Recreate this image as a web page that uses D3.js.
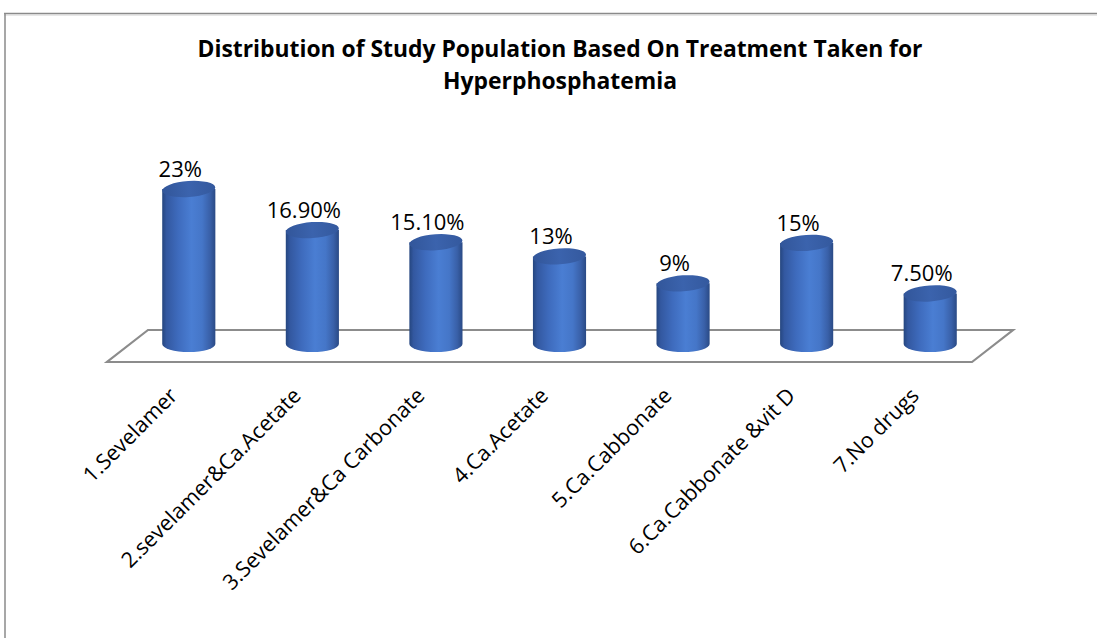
<!DOCTYPE html>
<html>
<head>
<meta charset="utf-8">
<script src="https://cdn.jsdelivr.net/npm/d3@7"></script>
<style>
  html, body { margin: 0; padding: 0; background: #ffffff; }
  svg { display: block; }
</style>
</head>
<body>
<svg id="chart" width="1097" height="638"></svg>
<script>
// Treatment groups and share of the study population (%)
const categories = [
  "1.Sevelamer",
  "2.sevelamer&Ca.Acetate",
  "3.Sevelamer&Ca Carbonate",
  "4.Ca.Acetate",
  "5.Ca.Cabbonate",
  "6.Ca.Cabbonate &vit D",
  "7.No drugs"
];
const values = [23, 16.9, 15.1, 13, 9, 15, 7.5];
const valueLabels = ["23%", "16.90%", "15.10%", "13%", "9%", "15%", "7.50%"];
const titleLines = [
  "Distribution of Study Population Based On Treatment Taken for",
  "Hyperphosphatemia"
];

(function () {
const svg = d3.select("#chart");
const W = 1097, H = 638;
const font = "'Open Sans', 'DejaVu Sans', sans-serif";

// chart area frame (top and left edges visible)
svg.append("line").attr("x1", 4).attr("y1", 13.5).attr("x2", W).attr("y2", 13.5)
  .attr("stroke", "#8a8a8a").attr("stroke-width", 1.5);
svg.append("line").attr("x1", 4).attr("y1", 15).attr("x2", W).attr("y2", 15)
  .attr("stroke", "#d0d0d0").attr("stroke-width", 1);
svg.append("line").attr("x1", 5).attr("y1", 13).attr("x2", 5).attr("y2", H)
  .attr("stroke", "#8a8a8a").attr("stroke-width", 1.5);

// title
const titleSizes = [725, 234];
svg.append("g").selectAll("text").data(titleLines).join("text")
  .attr("x", 560)
  .attr("y", (d, i) => 57 + i * 32)
  .attr("text-anchor", "middle")
  .attr("font-family", font)
  .attr("font-weight", "bold")
  .attr("font-size", 23)
  .attr("textLength", (d, i) => titleSizes[i])
  .attr("lengthAdjust", "spacingAndGlyphs")
  .attr("fill", "#000")
  .text(d => d);

// scales
const x = d3.scaleBand().domain(categories).range([127, 992]).padding(0);
const y = d3.scaleLinear().domain([0, 25]).range([344, 175.5]);
const barW = x.bandwidth() * 0.43;
const rx = barW / 2, ry = 8;
const cx = d => x(d) + x.bandwidth() / 2;

// floor plane
const depth = 41, floorBack = 330, floorFront = 362;
const fl = x.range()[0] - 20, fr = x.range()[1] - 20;
svg.append("path")
  .attr("d", `M${fl + depth},${floorBack} L${fr + depth},${floorBack} L${fr},${floorFront} L${fl},${floorFront} Z`)
  .attr("fill", "#ffffff")
  .attr("stroke", "#8c8c8c")
  .attr("stroke-width", 2.2)
  .attr("stroke-linejoin", "miter");

// gradients for the cylinders
const defs = svg.append("defs");
const bodyGrad = defs.append("linearGradient").attr("id", "cylBody")
  .attr("x1", "0%").attr("x2", "100%").attr("y1", "0%").attr("y2", "0%");
[["0%", "#25467f"], ["8%", "#3358a0"], ["30%", "#3e6bbd"], ["55%", "#4a7ed3"],
 ["75%", "#4576c8"], ["90%", "#3960a8"], ["100%", "#2a4a85"]]
  .forEach(([o, c]) => bodyGrad.append("stop").attr("offset", o).attr("stop-color", c));
const capGrad = defs.append("linearGradient").attr("id", "cylTop")
  .attr("x1", "0%").attr("x2", "100%").attr("y1", "0%").attr("y2", "0%");
[["0%", "#32569a"], ["50%", "#3b63ad"], ["100%", "#34599e"]]
  .forEach(([o, c]) => capGrad.append("stop").attr("offset", o).attr("stop-color", c));

const data = categories.map((c, i) => ({ c, v: values[i], label: valueLabels[i] }));
const bars = svg.append("g").selectAll("g").data(data).join("g");

// cylinder body: side walls plus rounded bottom
bars.append("path")
  .attr("d", d => {
    const x0 = cx(d.c) - rx, x1 = cx(d.c) + rx, yt = y(d.v), yb = y(0);
    return `M${x0},${yt} L${x0},${yb} A${rx},${ry} 0 0 0 ${x1},${yb} L${x1},${yt} Z`;
  })
  .attr("fill", "url(#cylBody)");

// cylinder top
bars.append("ellipse")
  .attr("cx", d => cx(d.c))
  .attr("cy", d => y(d.v))
  .attr("rx", rx)
  .attr("ry", ry)
  .attr("transform", d => `rotate(-4, ${cx(d.c)}, ${y(d.v)})`)
  .attr("fill", "url(#cylTop)");

// value labels
bars.append("text")
  .attr("x", d => cx(d.c) - 8.5)
  .attr("y", d => y(d.v) - 12)
  .attr("text-anchor", "middle")
  .attr("font-family", font)
  .attr("font-size", 22)
  .attr("fill", "#000")
  .text(d => d.label);

// category labels, rotated
svg.append("g").selectAll("text").data(categories).join("text")
  .attr("transform", d => `translate(${cx(d) - 10}, 397) rotate(-45)`)
  .attr("text-anchor", "end")
  .attr("font-family", font)
  .attr("font-size", 21.5)
  .attr("fill", "#000")
  .text(d => d);
})();
</script>
</body>
</html>
